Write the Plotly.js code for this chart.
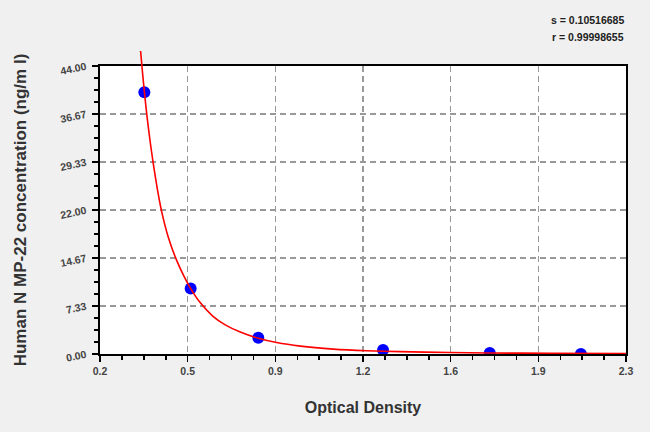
<!DOCTYPE html>
<html><head><meta charset="utf-8">
<script src="https://cdn.plot.ly/plotly-3.0.1.min.js"></script>
<style>html,body{margin:0;padding:0;background:#f0f0f0}#chart{width:650px;height:432px}</style>
</head><body><div id="chart"></div>
<script>
// Standard points (optical density vs concentration)
const odValues = [0.377, 0.562, 0.832, 1.330, 1.756, 2.120];
const concValues = [40, 10, 2.5, 0.625, 0.156, 0];
// Fitted curve
const curveOD = [0.362, 0.370, 0.377, 0.388, 0.400, 0.413, 0.429, 0.446, 0.473, 0.506, 0.535, 0.562, 0.599, 0.650, 0.700, 0.760, 0.832, 0.905, 1.000, 1.131, 1.264, 1.397, 1.597, 1.752, 2.000, 2.300];
const curveConc = [46.3, 42.9, 40.1, 36.2, 32.5, 29.0, 25.2, 21.8, 17.8, 14.3, 11.9, 10.0, 7.9, 5.8, 4.45, 3.35, 2.4, 1.75, 1.2, 0.75, 0.5, 0.36, 0.23, 0.16, 0.1, 0.07];
const xTickVals = [0.2, 0.55, 0.9, 1.25, 1.6, 1.95, 2.3];
const xTickText = ['0.2', '0.5', '0.9', '1.2', '1.6', '1.9', '2.3'];
const yTickVals = [0, 7.3333, 14.6667, 22, 29.3333, 36.6667, 44];
const yTickText = ['0.00', '7.33', '14.67', '22.00', '29.33', '36.67', '44.00'];
const statLines = ['s = 0.10516685', 'r = 0.99998655'];
const xTitle = 'Optical Density';
const yTitle = 'Human N MP-22 concentration (ng/m l)';

const W = 650, H = 432, mT = 46, mB = 78, mL = 100, mR = 24;
const plotH = H - mT - mB;          // 308
const mainTop = 1 - 20 / plotH;     // main frame top at y=66
const yMax = 44, y2Max = yMax / mainTop;

const fam = 'Liberation Sans, Arial, sans-serif';
const tickFont = {family: fam, size: 10.5, color: '#444', weight: 'bold'};

const traces = [
  {x: odValues, y: concValues, type: 'scatter', mode: 'markers',
   marker: {color: '#0000ff', size: 12, line: {width: 0}}, xaxis: 'x', yaxis: 'y', hoverinfo: 'skip'},
  {x: curveOD, y: curveConc, type: 'scatter', mode: 'lines',
   line: {color: '#ff0000', width: 1.6, shape: 'spline', smoothing: 0.5}, xaxis: 'x2', yaxis: 'y2', hoverinfo: 'skip'}
];

const axisCommon = {
  showline: true, linecolor: '#000', linewidth: 2, mirror: true,
  ticks: 'outside', ticklen: 6, tickwidth: 1.5, tickcolor: '#000',
  showgrid: true, gridcolor: '#999', gridwidth: 1.3, griddash: '6px,4px',
  zeroline: false, tickfont: tickFont, fixedrange: true
};

const layout = {
  width: W, height: H,
  margin: {l: mL, r: mR, t: mT, b: mB},
  paper_bgcolor: '#f0f0f0', plot_bgcolor: 'rgba(0,0,0,0)',
  showlegend: false,
  xaxis: Object.assign({}, axisCommon, {
    domain: [0, 1], anchor: 'y', range: [0.2, 2.3],
    tickmode: 'array', tickvals: xTickVals, ticktext: xTickText,
    minor: {ticks: 'outside', ticklen: 4, tickwidth: 1.5, tickcolor: '#000', tick0: 0.2, dtick: 0.0875, showgrid: false},
    title: {text: xTitle, standoff: 26, font: {family: fam, size: 16, color: '#333', weight: 'bold'}}
  }),
  yaxis: Object.assign({}, axisCommon, {
    domain: [0, mainTop], anchor: 'x', range: [0, yMax],
    tickmode: 'array', tickvals: yTickVals, ticktext: yTickText, tickangle: -12,
    ticklabelstandoff: 4,
    minor: {ticks: 'outside', ticklen: 4, tickwidth: 1.5, tickcolor: '#000', tick0: 0, dtick: 44 / 24, showgrid: false},
    title: {text: yTitle, standoff: 28, font: {family: fam, size: 17, color: '#333', weight: 'bold'}}
  }),
  xaxis2: {domain: [0, 1], anchor: 'y2', range: [0.2, 2.3], visible: false, fixedrange: true},
  yaxis2: {domain: [0, 1], anchor: 'x2', range: [0, y2Max], visible: false, fixedrange: true},
  shapes: [{type: 'rect', xref: 'x domain', yref: 'y domain', x0: 0, x1: 1, y0: 0, y1: 1,
            fillcolor: '#ffffff', line: {width: 0}, layer: 'below'}],
  annotations: statLines.map((t, i) => ({
    text: t, xref: 'paper', yref: 'paper', x: 1, xanchor: 'right',
    y: (H - mB - (20 + i * 17)) / plotH, yanchor: 'middle', showarrow: false,
    font: {family: fam, size: 10.5, color: '#222', weight: 'bold'}
  }))
};

Plotly.newPlot('chart', traces, layout, {staticPlot: true, displayModeBar: false});
</script>
</body></html>
